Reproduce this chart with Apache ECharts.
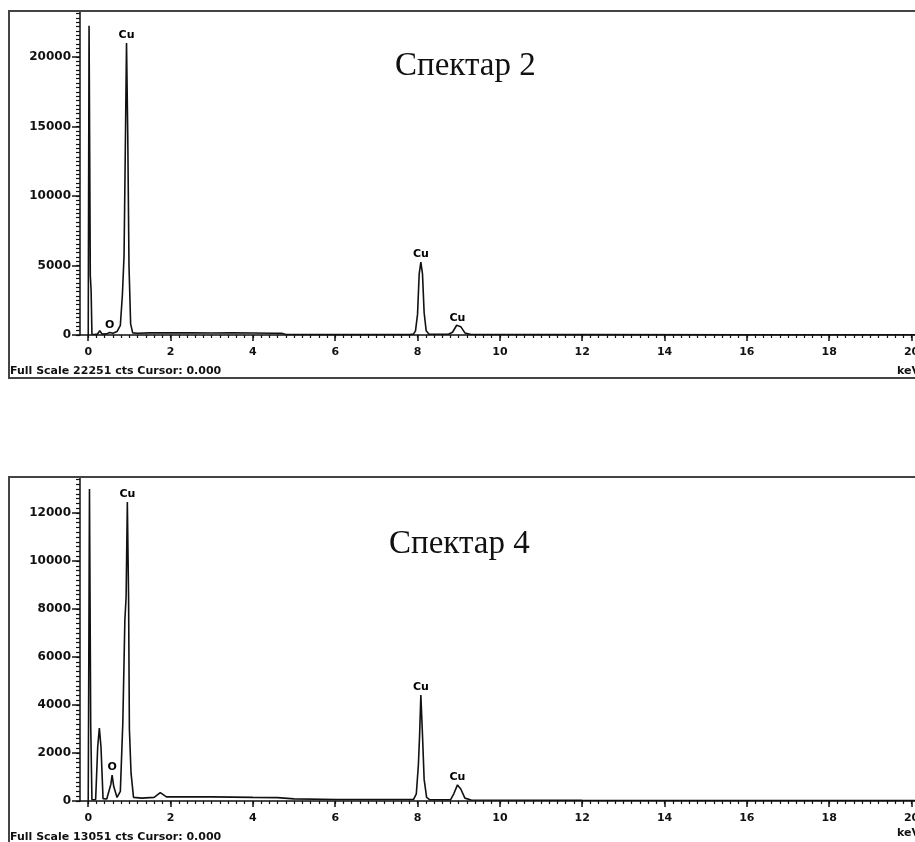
<!DOCTYPE html>
<html>
<head>
<meta charset="utf-8">
<script src="https://cdn.jsdelivr.net/npm/echarts@6/dist/echarts.min.js"></script>
<style>
html,body{margin:0;padding:0;background:#fff;overflow:hidden;width:915px;height:842px;}
#chart{width:960px;height:850px;}
</style>
</head>
<body>
<div id="chart"></div>
<script>
// ---- Spectrum 2 (energy keV / counts) ----
const energy2 = [0, 0.02, 0.05, 0.07, 0.09, 0.15, 0.22, 0.28, 0.34, 0.45, 0.52, 0.6, 0.7, 0.78, 0.83, 0.87, 0.9, 0.93, 0.96, 0.99, 1.03, 1.08, 1.2, 1.5, 2.0, 2.5, 3.0, 3.5, 4.0, 4.5, 4.7, 4.8, 6.0, 7.8, 7.9, 7.95, 8.0, 8.04, 8.08, 8.12, 8.16, 8.21, 8.28, 8.75, 8.85, 8.95, 9.05, 9.15, 9.3, 12, 16, 20.4];
const counts2 = [0, 22251, 4300, 3200, 50, 40, 60, 300, 60, 80, 180, 120, 250, 700, 2900, 5700, 13200, 21000, 14400, 5000, 800, 150, 130, 150, 160, 150, 140, 150, 140, 130, 120, 40, 30, 30, 60, 300, 1500, 4400, 5250, 4400, 1600, 300, 50, 50, 200, 700, 600, 150, 40, 30, 20, 20];
const peakNames2 = ['Cu', 'O', 'Cu', 'Cu'];
const peakEnergy2 = [0.93, 0.52, 8.08, 8.97];
const peakCounts2 = [21000, 180, 5250, 700];

// ---- Spectrum 4 ----
const energy4 = [0, 0.01, 0.03, 0.06, 0.09, 0.18, 0.23, 0.27, 0.31, 0.36, 0.45, 0.55, 0.58, 0.62, 0.7, 0.78, 0.84, 0.89, 0.92, 0.95, 0.98, 1.0, 1.04, 1.1, 1.3, 1.6, 1.75, 1.9, 2.5, 3.0, 3.5, 4.0, 4.6, 5.0, 6.0, 7.9, 7.97, 8.02, 8.05, 8.08, 8.12, 8.16, 8.22, 8.3, 8.8, 8.88, 8.97, 9.05, 9.15, 9.3, 12, 20.4];
const counts4 = [0, 4300, 13000, 3200, 50, 60, 2250, 3040, 2250, 100, 80, 700, 1080, 600, 150, 400, 3250, 7540, 8500, 12460, 8500, 3000, 1160, 150, 120, 150, 350, 170, 180, 170, 160, 150, 140, 90, 60, 60, 300, 1500, 2750, 4420, 2750, 900, 150, 50, 50, 300, 670, 500, 120, 40, 30, 20];
const peakNames4 = ['Cu', 'O', 'Cu', 'Cu'];
const peakEnergy4 = [0.95, 0.58, 8.08, 8.97];
const peakCounts4 = [12460, 1080, 4420, 670];

// ---- Axis ticks / labels ----
const xLabels = [0, 2, 4, 6, 8, 10, 12, 14, 16, 18, 20];
const yLabels2 = [0, 5000, 10000, 15000, 20000];
const yLabels4 = [0, 2000, 4000, 6000, 8000, 10000, 12000];
const titles = ['Спектар 2', 'Спектар 4'];
const footers = ['Full Scale 22251 cts Cursor: 0.000', 'Full Scale 13051 cts Cursor: 0.000'];

const xMin = -0.2, xMax = 20.4;
const yMax2 = 23310, yMax4 = 13500;
const yStep2 = 312.5, yStep4 = 200;

function range(a, b, s) { const r = []; for (let i = 0; a + i * s <= b + 1e-9; i++) r.push(+(a + i * s).toFixed(4)); return r; }
const xMinor = range(0, 20.4, 0.2);
const yMinor2 = range(0, yMax2, yStep2);
const yMinor4 = range(0, yMax4, yStep4);

const pairs = (xs, ys) => xs.map((x, i) => [x, ys[i]]);
const labelPts = (names, xs, ys) => names.map((n, i) => ({ name: n, value: [xs[i], ys[i]] }));

const FONT = 'DejaVu Sans';
const ink = '#111';
const plain = v => String(Math.round(v * 1000) / 1000);

function xAxes(grid) {
  return [
    { type: 'value', gridIndex: grid, min: xMin, max: xMax, position: 'bottom',
      axisLine: { show: true, onZero: false, lineStyle: { color: ink, width: 1.5 } },
      axisTick: { show: true, customValues: xMinor, length: 3, lineStyle: { color: ink, width: 1.2 } },
      axisLabel: { show: true, customValues: xLabels, formatter: plain, margin: 12, fontFamily: FONT, fontSize: 11, fontWeight: 'bold', color: ink },
      splitLine: { show: false } },
    { type: 'value', gridIndex: grid, min: xMin, max: xMax, position: 'bottom',
      axisLine: { show: false, onZero: false },
      axisTick: { show: true, customValues: xLabels, length: 6, lineStyle: { color: ink, width: 1.5 } },
      axisLabel: { show: false },
      splitLine: { show: false } }
  ];
}
function yAxes(grid, max, minor, labels) {
  return [
    { type: 'value', gridIndex: grid, min: 0, max: max, position: 'left',
      axisLine: { show: true, onZero: false, lineStyle: { color: ink, width: 1.5 } },
      axisTick: { show: true, customValues: minor, length: 4, lineStyle: { color: ink, width: 1.2 } },
      axisLabel: { show: true, customValues: labels, formatter: plain, margin: 9, fontFamily: FONT, fontSize: 12, fontWeight: 'bold', color: ink },
      splitLine: { show: false } },
    { type: 'value', gridIndex: grid, min: 0, max: max, position: 'left',
      axisLine: { show: false, onZero: false },
      axisTick: { show: true, customValues: labels, length: 8, lineStyle: { color: ink, width: 1.5 } },
      axisLabel: { show: false },
      splitLine: { show: false } }
  ];
}
function lineSeries(xi, yi, data) {
  return { type: 'line', xAxisIndex: xi, yAxisIndex: yi, data: data, showSymbol: false, symbol: 'none',
    lineStyle: { color: ink, width: 1.6 }, animation: false, z: 3 };
}
function labelSeries(xi, yi, data) {
  return { type: 'scatter', xAxisIndex: xi, yAxisIndex: yi, data: data, symbolSize: 0, animation: false, silent: true,
    itemStyle: { color: ink, opacity: 1 },
    label: { show: true, position: 'top', distance: 2, formatter: '{b}', fontFamily: FONT, fontSize: 11, fontWeight: 'bold', color: '#000', opacity: 1 } };
}

const chart = echarts.init(document.getElementById('chart'), null, { renderer: 'canvas' });
chart.setOption({
  animation: false,
  backgroundColor: '#fff',
  grid: [
    { left: 80, top: 11, width: 848, height: 324 },
    { left: 80, top: 477, width: 848, height: 324 }
  ],
  xAxis: [...xAxes(0), ...xAxes(1)],
  yAxis: [...yAxes(0, yMax2, yMinor2, yLabels2), ...yAxes(1, yMax4, yMinor4, yLabels4)],
  series: [
    lineSeries(0, 0, pairs(energy2, counts2)),
    labelSeries(0, 0, labelPts(peakNames2, peakEnergy2, peakCounts2)),
    lineSeries(2, 2, pairs(energy4, counts4)),
    labelSeries(2, 2, labelPts(peakNames4, peakEnergy4, peakCounts4))
  ],
  graphic: [
    { type: 'rect', shape: { x: 9, y: 11, width: 930, height: 367 }, style: { fill: 'none', stroke: '#444', lineWidth: 2 }, z: 10 },
    { type: 'rect', shape: { x: 9, y: 477, width: 930, height: 367 }, style: { fill: 'none', stroke: '#444', lineWidth: 2 }, z: 10 },
    { type: 'text', x: 395, y: 66, style: { text: titles[0], font: '33px "Liberation Serif"', fill: ink, verticalAlign: 'middle' }, z: 10 },
    { type: 'text', x: 389, y: 544, style: { text: titles[1], font: '33px "Liberation Serif"', fill: ink, verticalAlign: 'middle' }, z: 10 },
    { type: 'text', x: 10, y: 371, style: { text: footers[0], font: 'bold 11px "DejaVu Sans"', fill: ink, verticalAlign: 'middle' }, z: 10 },
    { type: 'text', x: 10, y: 837, style: { text: footers[1], font: 'bold 11px "DejaVu Sans"', fill: ink, verticalAlign: 'middle' }, z: 10 },
    { type: 'text', x: 897, y: 371, style: { text: 'keV', font: 'bold 11px "DejaVu Sans"', fill: ink, verticalAlign: 'middle' }, z: 10 },
    { type: 'text', x: 897, y: 833, style: { text: 'keV', font: 'bold 11px "DejaVu Sans"', fill: ink, verticalAlign: 'middle' }, z: 10 }
  ]
});
</script>
</body>
</html>
